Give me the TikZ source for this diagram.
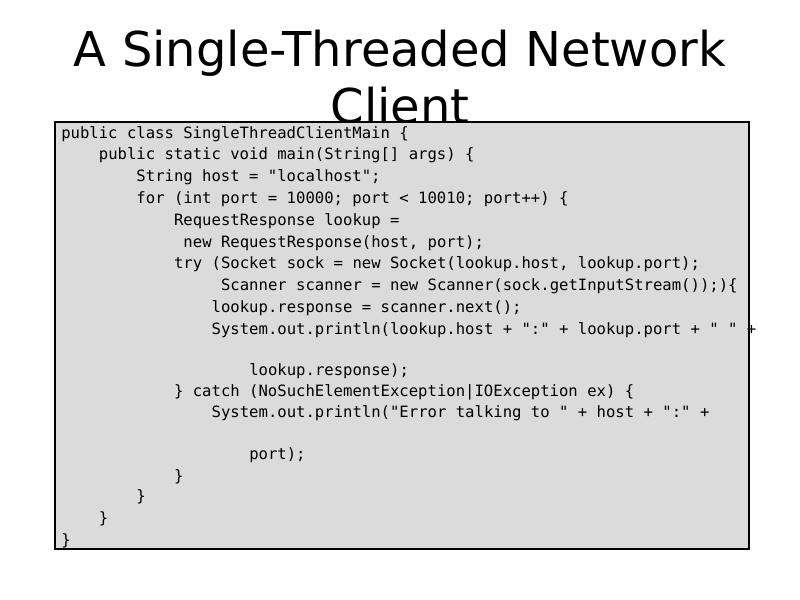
\documentclass[tikz,border=0pt]{standalone}
\usepackage{fontspec}
\setmainfont{DejaVu Sans}
\newfontfamily\codefont{DejaVu Sans Mono}
\usetikzlibrary{positioning}

\tikzset{
  title/.style={font=\fontsize{36}{43}\selectfont, align=center},
  codebox/.style={draw=black, line width=1.5pt, fill=black!14},
  code/.style={anchor=west, inner sep=0pt, font=\codefont\fontsize{11.7}{14}\selectfont}
}
% indentation in characters, then the text
\newcommand{\codeln}[4][]{\node[code] (#2) at (61+9.4*#3, #1) {#4};}

\begin{document}
\begin{tikzpicture}[x=0.75pt, y=-0.75pt]
  \useasboundingbox (0,0) rectangle (800,600);
  \node[title] (head) at (400,77) {A Single-Threaded Network\\Client};
  \node[codebox, minimum width=694*0.75pt, minimum height=427*0.75pt, anchor=north west] (box) at (54,121) {};
  % listing
  \codeln[134]{l1}{0}{public class SingleThreadClientMain \{}
  \codeln[155]{l2}{4}{public static void main(String[] args) \{}
  \codeln[177]{l3}{8}{String host = "localhost";}
  \codeln[199]{l4}{8}{for (int port = 10000; port < 10010; port++) \{}
  \codeln[221]{l5}{12}{RequestResponse lookup =}
  \codeln[243]{l6}{13}{new RequestResponse(host, port);}
  \codeln[264]{l7}{12}{try (Socket sock = new Socket(lookup.host, lookup.port);}
  \codeln[286]{l8}{17}{Scanner scanner = new Scanner(sock.getInputStream());)\{}
  \codeln[308]{l9}{16}{lookup.response = scanner.next();}
  \codeln[330]{l10}{16}{System.out.println(lookup.host + ":" + lookup.port + " " +}
  \codeln[371]{l11}{20}{lookup.response);}
  \codeln[392]{l12}{12}{\} catch (NoSuchElementException|IOException ex) \{}
  \codeln[413]{l13}{16}{System.out.println("Error talking to " + host + ":" +}
  \codeln[455]{l14}{20}{port);}
  \codeln[477]{l15}{12}{\}}
  \codeln[497]{l16}{8}{\}}
  \codeln[519]{l17}{4}{\}}
  \codeln[541]{l18}{0}{\}}
\end{tikzpicture}
\end{document}
